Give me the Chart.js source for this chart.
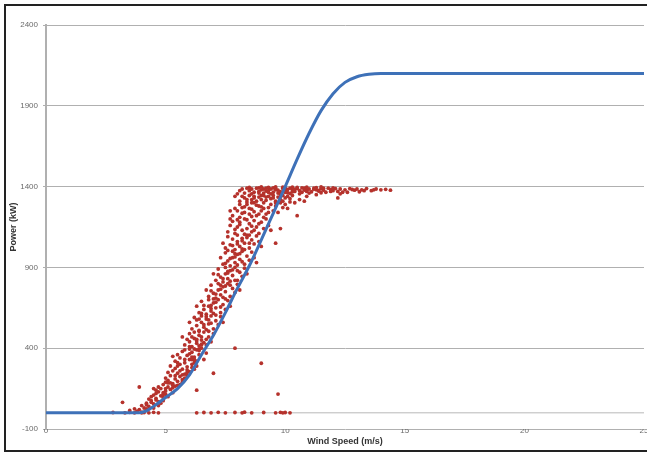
<!DOCTYPE html>
<html>
<head>
<meta charset="utf-8">
<script src="https://cdn.jsdelivr.net/npm/chart.js@4"></script>
<style>
  body { margin: 0; overflow: hidden; background: #fff; }
  #wrap { position: absolute; left: 0; top: 0; width: 660px; height: 453px; }
  #frame { position: absolute; left: 4px; top: 4px; width: 700px; height: 448px; box-sizing: border-box; border: 2px solid #222; pointer-events: none; }
</style>
</head>
<body>
<div id="wrap"><canvas id="chart"></canvas></div>
<div id="frame"></div>
<script>
'use strict';

// manufacturer power curve
let curveWind = [0, 3.9, 4.2, 4.5, 5.0, 5.5, 6.0, 6.5, 7.0, 7.5, 8.0, 8.5, 9.0, 9.5, 10.0, 10.5, 11.0, 11.5, 12.0, 12.5, 13.0, 13.5, 14.0, 25];
let curvePower = [0, 0, 12, 40, 95, 150, 235, 360, 480, 620, 770, 910, 1070, 1235, 1400, 1570, 1730, 1870, 1975, 2045, 2080, 2095, 2100, 2100];

// axis ticks
let xTicks = [0, 5, 10, 15, 20, 25];
let yTicks = [-100, 400, 900, 1400, 1900, 2400];
let zeroLine = [0, 0];

// measured turbine output [wind, power]
let zeroRow = [
  [2.8, 2], [3.3, 0], [3.5, 3], [3.7, 0], [3.8, 4], [4.0, 0], [4.1, 2], [4.3, 0], [4.5, 3], [4.7, 0],
  [6.3, 0], [6.6, 2], [6.9, 0], [7.2, 3], [7.5, 0], [7.9, 2], [8.2, 0], [8.3, 4], [8.6, 0], [9.1, 2],
  [9.6, 0], [9.8, 3], [9.9, 0], [10.0, 2], [10.2, 0]
];
let outliers = [
  [3.2, 65], [3.9, 160], [6.3, 140], [7.0, 245], [7.9, 400], [9.0, 307], [9.7, 116],
  [9.8, 1140], [9.6, 1050], [10.5, 1220], [10.4, 1300], [10.1, 1265], [10.6, 1320],
  [10.9, 1340], [11.3, 1350], [12.2, 1330], [12.3, 1355], [10.8, 1310]
];
let lowBand = [
  [3.5, 15], [3.7, 25], [3.9, 20], [4.0, 45], [4.1, 30], [4.2, 60], [4.3, 40], [4.4, 75], [4.5, 55], [4.6, 90],
  [4.3, 85], [4.7, 70], [4.8, 105], [4.5, 110], [4.9, 95], [4.6, 120], [5.0, 115], [4.4, 100], [4.7, 130], [4.2, 50],
  [3.8, 10], [4.0, 5], [4.8, 60],
  [4.6, 140], [4.8, 150], [5.0, 135], [5.1, 160], [4.9, 175], [5.2, 145], [5.3, 180], [5.0, 190], [5.4, 165], [5.5, 195],
  [4.7, 160], [5.1, 200], [5.6, 175], [5.3, 155], [4.9, 125], [5.2, 185], [5.7, 190], [4.5, 150],
  [5.0, 215], [5.2, 230], [5.4, 210], [5.5, 245], [5.3, 260], [5.6, 225], [5.7, 270], [5.8, 240], [5.9, 285], [5.5, 290],
  [6.0, 255], [6.1, 300], [5.4, 275], [5.1, 250], [5.8, 215], [6.2, 270], [5.6, 300], [5.9, 230], [5.2, 290], [6.3, 290]
];
let midBand = [
  [5.4, 320], [5.6, 340], [5.8, 310], [5.9, 355], [6.0, 330], [6.1, 375], [6.2, 345], [6.3, 390], [6.4, 360], [6.5, 400],
  [5.7, 380], [5.5, 360], [6.0, 395], [6.6, 330], [6.3, 320], [5.8, 390], [6.2, 310], [6.7, 370], [5.3, 350], [6.1, 345], [6.4, 395],
  [5.8, 420], [6.0, 440], [6.1, 410], [6.2, 460], [6.3, 430], [6.4, 480], [6.5, 450], [6.6, 500], [6.7, 420], [6.8, 470],
  [6.0, 490], [5.7, 470], [6.4, 415], [6.9, 440], [7.0, 490], [6.2, 500], [6.5, 470], [6.3, 455], [5.9, 455], [6.6, 435],
  [6.1, 520], [6.3, 540], [6.4, 510], [6.5, 560], [6.6, 530], [6.7, 580], [6.8, 550], [6.9, 600], [7.0, 520], [7.1, 570],
  [6.2, 590], [6.0, 560], [6.7, 515], [7.2, 545], [7.3, 595], [6.5, 600], [6.8, 575], [6.4, 580], [7.4, 560],
  [6.4, 620], [6.6, 640], [6.7, 610], [6.8, 660], [6.9, 630], [7.0, 680], [7.1, 650], [7.2, 700], [7.3, 620], [7.4, 670],
  [6.5, 690], [6.3, 660], [7.0, 615], [7.5, 640], [7.6, 695], [6.8, 700], [7.1, 685], [6.9, 665], [7.7, 660],
  [6.8, 720], [7.0, 740], [7.1, 710], [7.2, 760], [7.3, 730], [7.4, 780], [7.5, 750], [7.6, 800], [7.7, 720], [7.8, 770],
  [6.9, 790], [6.7, 760], [7.4, 715], [7.9, 745], [8.0, 795], [7.2, 800], [7.5, 785], [7.3, 765], [8.1, 760]
];
let highBand = [
  [7.1, 820], [7.3, 840], [7.4, 810], [7.5, 860], [7.6, 830], [7.7, 880], [7.8, 850], [7.9, 900], [8.0, 820], [8.1, 870],
  [7.2, 890], [7.0, 860], [7.7, 815], [8.2, 845], [8.3, 895], [7.5, 900], [7.8, 885], [7.6, 865], [8.4, 860],
  [7.4, 920], [7.6, 940], [7.7, 910], [7.8, 960], [7.9, 930], [8.0, 980], [8.1, 950], [8.2, 1000], [8.3, 920], [8.4, 970],
  [7.5, 990], [7.3, 960], [8.0, 915], [8.5, 945], [8.6, 995], [7.8, 1000], [8.1, 985], [7.9, 965], [8.7, 960], [8.8, 930],
  [7.5, 1020], [7.7, 1040], [7.9, 1010], [8.0, 1060], [8.1, 1030], [8.2, 1080], [8.3, 1050], [8.4, 1100], [8.5, 1020], [8.6, 1070],
  [7.6, 1090], [7.8, 1075], [8.2, 1015], [8.7, 1045], [8.8, 1095], [8.0, 1100], [8.4, 1085], [8.9, 1060], [9.0, 1030], [7.4, 1050],
  [7.6, 1120], [7.7, 1160], [7.9, 1110], [8.0, 1150], [8.1, 1180], [8.2, 1130], [8.3, 1200], [8.4, 1140], [8.5, 1170], [8.6, 1120],
  [8.7, 1190], [8.8, 1150], [8.9, 1110], [9.0, 1180], [9.1, 1140], [9.2, 1200], [9.3, 1160], [8.0, 1195], [7.8, 1185], [8.6, 1155], [9.4, 1130],
  [7.8, 1220], [8.0, 1250], [8.1, 1210], [8.2, 1270], [8.3, 1240], [8.4, 1290], [8.5, 1230], [8.6, 1260], [8.7, 1300], [8.8, 1220],
  [8.9, 1280], [9.0, 1250], [9.1, 1300], [9.2, 1230], [9.3, 1270], [9.4, 1290], [9.5, 1250], [9.6, 1280], [9.7, 1240], [9.8, 1300],
  [8.1, 1290], [8.6, 1215], [9.0, 1275], [9.9, 1270], [10.0, 1290], [7.9, 1265]
];
let ratedBand = [
  [8.1, 1310], [8.3, 1330], [8.4, 1305], [8.5, 1345], [8.6, 1320], [8.7, 1340], [8.8, 1310], [8.9, 1335], [9.0, 1320], [9.1, 1345],
  [9.2, 1315], [9.3, 1340], [9.4, 1325], [9.5, 1345], [9.6, 1310], [9.7, 1335], [9.8, 1320], [9.9, 1345], [10.0, 1330], [10.1, 1340],
  [10.2, 1325], [10.3, 1345], [8.2, 1340], [9.0, 1345], [8.6, 1300],
  [8.3, 1360], [8.5, 1375], [8.6, 1385], [8.7, 1365], [8.8, 1390], [8.9, 1370], [9.0, 1380], [9.1, 1360], [9.2, 1390], [9.3, 1375],
  [9.4, 1385], [9.5, 1365], [9.6, 1390], [9.7, 1378], [9.8, 1368], [9.9, 1388], [10.0, 1375], [10.1, 1362], [10.2, 1390], [10.3, 1380],
  [10.4, 1370], [10.5, 1388], [10.6, 1375], [10.7, 1365], [10.8, 1390], [10.9, 1378], [11.0, 1385], [11.1, 1368], [11.2, 1390], [11.3, 1380],
  [11.4, 1372], [11.5, 1388], [11.6, 1378], [11.7, 1365], [11.8, 1390], [11.9, 1382], [12.0, 1375], [12.1, 1388], [12.2, 1370], [12.3, 1385],
  [12.5, 1380], [12.6, 1365], [12.7, 1388], [12.9, 1378], [13.0, 1385], [13.2, 1380], [13.4, 1388], [13.6, 1375], [13.8, 1385], [14.0, 1380],
  [14.4, 1378], [9.4, 1355], [9.8, 1352], [10.2, 1358], [10.6, 1355], [11.0, 1360], [11.5, 1362], [12.4, 1365], [13.1, 1368], [9.2, 1372],
  [9.6, 1380], [10.0, 1392], [10.4, 1384], [10.8, 1379], [11.2, 1384], [11.6, 1390], [12.0, 1392], [8.9, 1392], [9.3, 1395], [9.9, 1396],
  [10.5, 1395], [8.4, 1390], [8.2, 1385], [8.1, 1375], [9.1, 1385], [9.5, 1392], [10.1, 1382], [10.7, 1392], [11.3, 1394]
];
let denseCore = [
  [4.4, 65], [4.6, 80], [4.9, 115], [5.0, 150], [5.3, 170], [5.1, 185], [5.4, 230], [5.6, 260], [5.7, 235], [5.9, 265],
  [5.5, 310], [5.8, 330], [6.0, 365], [6.1, 330], [6.2, 395], [6.0, 410], [6.3, 445], [6.5, 425], [6.1, 470], [6.4, 505],
  [6.6, 545], [6.3, 575], [6.5, 615], [6.7, 595], [6.9, 645], [6.6, 665], [7.0, 705], [7.1, 735], [6.9, 755], [7.3, 790],
  [7.4, 830], [7.2, 855], [7.6, 875], [7.5, 925], [7.7, 955], [7.9, 985], [7.6, 1005], [7.8, 1035], [8.0, 1045], [8.2, 1065],
  [8.3, 1105], [7.9, 1135], [8.1, 1165], [8.4, 1195], [8.2, 1235], [8.5, 1265], [8.7, 1245], [8.3, 1275], [8.8, 1285], [9.1, 1265],
  [8.4, 1320], [8.7, 1330], [9.2, 1335], [9.5, 1330], [9.8, 1340], [8.6, 1355], [8.9, 1360], [9.3, 1365], [9.7, 1360], [10.0, 1365],
  [10.3, 1368], [10.9, 1370], [11.4, 1376], [11.9, 1370], [12.8, 1382], [13.3, 1375], [13.7, 1380], [14.2, 1383], [8.0, 1355], [8.5, 1395],
  [9.0, 1398], [9.6, 1398], [10.3, 1396], [10.9, 1396], [11.5, 1398], [7.9, 1340], [7.7, 1250], [7.7, 1200], [8.9, 1230], [9.1, 1210],
  [9.3, 1240], [9.6, 1300], [9.9, 1310], [10.2, 1305], [8.5, 1100], [8.7, 1130], [8.9, 1170], [8.3, 1010], [8.5, 1050], [8.0, 880],
  [8.2, 935], [7.9, 820], [7.7, 790], [7.5, 705], [7.3, 655], [7.1, 605], [6.9, 555], [6.8, 505], [6.7, 455], [6.5, 420],
  [6.4, 385], [6.2, 330], [6.1, 280], [5.9, 250], [5.7, 205], [5.5, 170], [5.3, 125], [5.1, 100], [4.9, 75], [4.7, 45],
  [4.5, 30], [4.2, 25]
];

function toPoints(pairs) {
  return pairs.map(p => ({ x: p[0], y: p[1] }));
}

let measured = [].concat(zeroRow, outliers, lowBand, midBand, highBand, ratedBand, denseCore);
let curveData = curveWind.map((w, i) => ({ x: w, y: curvePower[i] }));
let zeroData = [{ x: xTicks[0], y: zeroLine[0] }, { x: xTicks[xTicks.length - 1], y: zeroLine[1] }];

let tickFont = { family: 'Liberation Sans', size: 8 };
let titleFont = { family: 'Liberation Sans', size: 9, weight: 'bold' };

let ctx = document.getElementById('chart').getContext('2d');
new Chart(ctx, {
  type: 'scatter',
  data: {
    datasets: [{
      type: 'line',
      data: curveData,
      borderColor: '#3e71b8',
      borderWidth: 3,
      pointRadius: 0,
      cubicInterpolationMode: 'monotone',
      fill: false
    }, {
      data: toPoints(measured),
      backgroundColor: '#b5322c',
      borderWidth: 0,
      pointRadius: 1.9
    }, {
      type: 'line',
      data: zeroData,
      borderColor: '#b8b8b8',
      borderWidth: 1,
      pointRadius: 0
    }]
  },
  options: {
    responsive: true,
    maintainAspectRatio: false,
    animation: false,
    layout: { padding: { top: 25, right: 16, left: 0, bottom: 0 } },
    plugins: { legend: { display: false }, tooltip: { enabled: false } },
    scales: {
      x: {
        type: 'linear',
        min: xTicks[0],
        max: xTicks[xTicks.length - 1],
        afterBuildTicks: scale => { scale.ticks = xTicks.map(v => ({ value: v })); },
        afterFit: scale => { scale.height = 24; },
        grid: { display: false, drawTicks: false },
        border: { display: false },
        ticks: { font: tickFont, color: '#6a6a6a', padding: -3, maxRotation: 0, callback: v => String(v) },
        title: { display: true, text: 'Wind Speed (m/s)', font: titleFont, color: '#333', padding: { top: 0, bottom: 6 } }
      },
      y: {
        min: yTicks[0],
        max: yTicks[yTicks.length - 1],
        afterBuildTicks: scale => { scale.ticks = yTicks.map(v => ({ value: v })); },
        afterFit: scale => { scale.width = 46; },
        grid: { color: '#b0b0b0', lineWidth: 1, tickLength: 3 },
        border: { color: '#b0b0b0', width: 2 },
        ticks: { font: tickFont, color: '#6a6a6a', padding: 5, callback: v => String(v) },
        title: { display: true, text: 'Power (kW)', font: titleFont, color: '#333', padding: { top: 8, bottom: 0 } }
      }
    }
  }
});
</script>
</body>
</html>
